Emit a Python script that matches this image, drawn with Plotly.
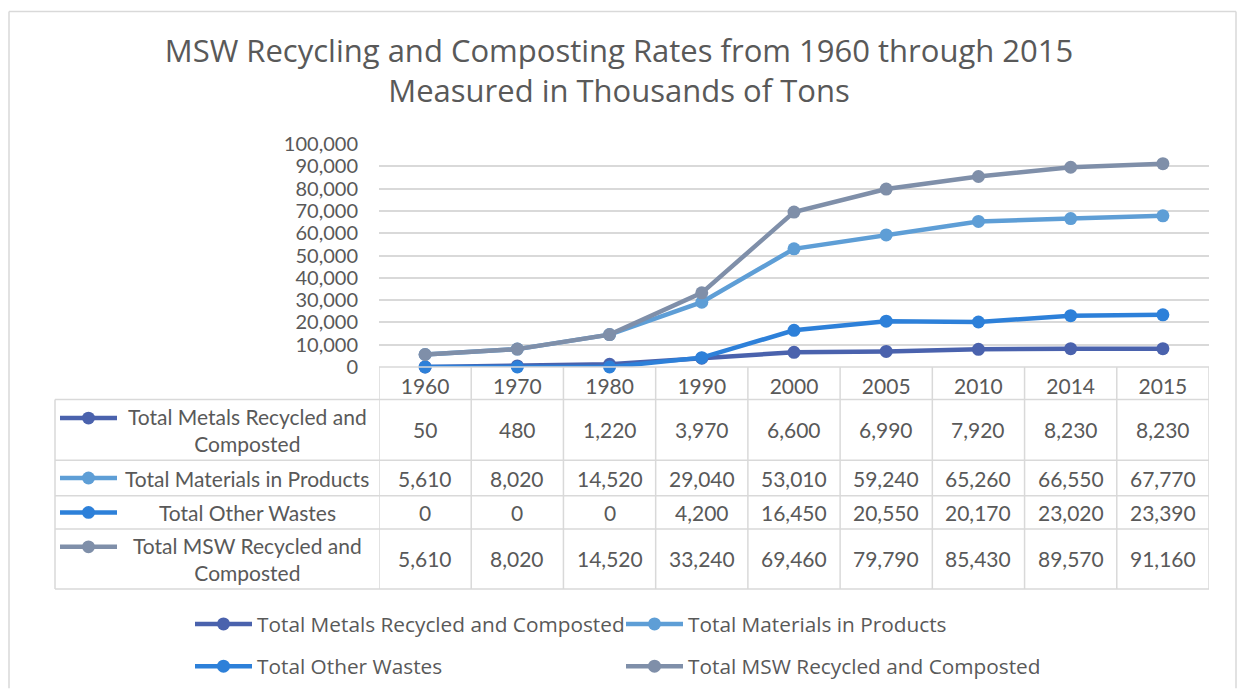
import plotly.graph_objects as go

# ---------------- data ----------------
years = ['1960', '1970', '1980', '1990', '2000', '2005', '2010', '2014', '2015']
metals = [50, 480, 1220, 3970, 6600, 6990, 7920, 8230, 8230]
materials = [5610, 8020, 14520, 29040, 53010, 59240, 65260, 66550, 67770]
other_wastes = [0, 0, 0, 4200, 16450, 20550, 20170, 23020, 23390]
msw_total = [5610, 8020, 14520, 33240, 69460, 79790, 85430, 89570, 91160]

series_names = ['Total Metals Recycled and Composted', 'Total Materials in Products',
                'Total Other Wastes', 'Total MSW Recycled and Composted']
table_labels = ['Total Metals Recycled and<br>Composted', 'Total Materials in Products',
                'Total Other Wastes', 'Total MSW Recycled and<br>Composted']
y_tick_vals = [0, 10000, 20000, 30000, 40000, 50000, 60000, 70000, 80000, 90000, 100000]
title_text = 'MSW Recycling and Composting Rates from 1960 through 2015<br>Measured in Thousands of Tons'

series_values = [metals, materials, other_wastes, msw_total]
colors = ['#4A62AD', '#5E9ED6', '#2D80D9', '#7F8FA9']
legend_ids = ['legend', 'legend2', 'legend3', 'legend4']

# ---------------- layout geometry (pixels) ----------------
W, H = 1238, 700
L, R, T, B = 379, 1209, 144, 371
TXT = '#595959'
GRID = '#D9D9D9'
BODY_FONT = 'Lato, Century Gothic, sans-serif'
HEAD_FONT = 'Open Sans, Tw Cen MT, sans-serif'
BODY_SIZE = 21


def px(x):
    return (x - L) / (R - L)


def py(y):
    return (B - y) / (B - T)


fig = go.Figure()
for name, vals, col, lg in zip(series_names, series_values, colors, legend_ids):
    fig.add_trace(go.Scatter(
        x=years, y=vals, name=name, mode='lines+markers',
        line=dict(color=col, width=4.5),
        marker=dict(color=col, size=13),
        cliponaxis=False, legend=lg,
    ))

shapes = []
line_style = dict(color=GRID, width=1.5)
border_style = dict(color=GRID, width=1.5)
# outer chart border (top, left, right; bottom edge is below the visible area)
shapes.append(dict(type='line', xref='paper', yref='paper', x0=px(9), x1=px(1236),
                   y0=py(9), y1=py(9), line=border_style, layer='below'))
shapes.append(dict(type='line', xref='paper', yref='paper', x0=px(9), x1=px(9),
                   y0=py(9), y1=py(698), line=border_style, layer='below'))
shapes.append(dict(type='line', xref='paper', yref='paper', x0=px(1236), x1=px(1236),
                   y0=py(9), y1=py(698), line=border_style, layer='below'))
# table horizontal lines
shapes.append(dict(type='line', xref='paper', yref='paper', x0=0, x1=1, y0=py(371), y1=py(371), line=line_style))
row_lines = [404, 466, 502, 536, 597]
for yy in row_lines:
    shapes.append(dict(type='line', xref='paper', yref='paper', x0=px(55), x1=1, y0=py(yy), y1=py(yy), line=line_style))
# label column left line
shapes.append(dict(type='line', xref='paper', yref='paper', x0=px(55), x1=px(55), y0=py(404), y1=py(597), line=line_style))
# category boundaries
for i in range(len(years) + 1):
    shapes.append(dict(type='line', xref='x', yref='paper', x0=i - 0.5, x1=i - 0.5,
                       y0=py(371), y1=py(597), line=line_style))

annotations = []
row_centers = [435, 484, 519, 566]
row_key_y = [423, 484, 519, 554]
for r, (vals, lab, col) in enumerate(zip(series_values, table_labels, colors)):
    for i, v in enumerate(vals):
        annotations.append(dict(xref='x', yref='paper', x=i, y=py(row_centers[r]),
                                text=f'{v:,}', showarrow=False,
                                font=dict(family=BODY_FONT, size=BODY_SIZE, color=TXT),
                                xanchor='center', yanchor='middle'))
    annotations.append(dict(xref='paper', yref='paper', x=px(247), y=py(row_centers[r]),
                            text=lab, showarrow=False, align='center',
                            font=dict(family=BODY_FONT, size=BODY_SIZE, color=TXT),
                            xanchor='center', yanchor='middle'))
    # legend key inside the table
    shapes.append(dict(type='line', xref='paper', yref='paper', x0=px(60), x1=px(117),
                       y0=py(row_key_y[r]), y1=py(row_key_y[r]), line=dict(color=col, width=4.5)))
    shapes.append(dict(type='circle', xref='paper', yref='paper', x0=px(82), x1=px(95),
                       y0=py(row_key_y[r] + 6.5), y1=py(row_key_y[r] - 6.5),
                       fillcolor=col, line=dict(color=col, width=0)))

legend_common = dict(orientation='h', xanchor='left', yanchor='middle', itemwidth=57,
                     font=dict(family=HEAD_FONT, size=20.8, color=TXT), bgcolor='rgba(0,0,0,0)',
                     tracegroupgap=0)
legend_pos = [(190, 633), (621, 633), (190, 676), (621, 676)]

fig.update_layout(
    width=W, height=H,
    margin=dict(l=L, r=W - R, t=T, b=H - B),
    paper_bgcolor='white', plot_bgcolor='white',
    title=dict(text=title_text, x=0.5, xref='container', xanchor='center',
               y=1 - 62 / H, yref='container', yanchor='middle',
               font=dict(family=HEAD_FONT, size=31, color=TXT)),
    xaxis=dict(type='category', range=[-0.5, len(years) - 0.5], showgrid=False, zeroline=False,
               showline=False, ticks='', ticklabelstandoff=5,
               tickfont=dict(family=BODY_FONT, size=BODY_SIZE, color=TXT)),
    yaxis=dict(range=[0, 100000], tickvals=y_tick_vals, tickformat=',', showgrid=True,
               gridcolor=GRID, gridwidth=1.5, zeroline=False, showline=False, ticks='',
               ticklabelstandoff=20,
               tickfont=dict(family=BODY_FONT, size=20, color=TXT)),
    shapes=shapes, annotations=annotations,
    showlegend=True,
    legend=dict(x=px(legend_pos[0][0]), y=py(legend_pos[0][1]), **legend_common),
    legend2=dict(x=px(legend_pos[1][0]), y=py(legend_pos[1][1]), **legend_common),
    legend3=dict(x=px(legend_pos[2][0]), y=py(legend_pos[2][1]), **legend_common),
    legend4=dict(x=px(legend_pos[3][0]), y=py(legend_pos[3][1]), **legend_common),
)

fig.write_html('out.html')
